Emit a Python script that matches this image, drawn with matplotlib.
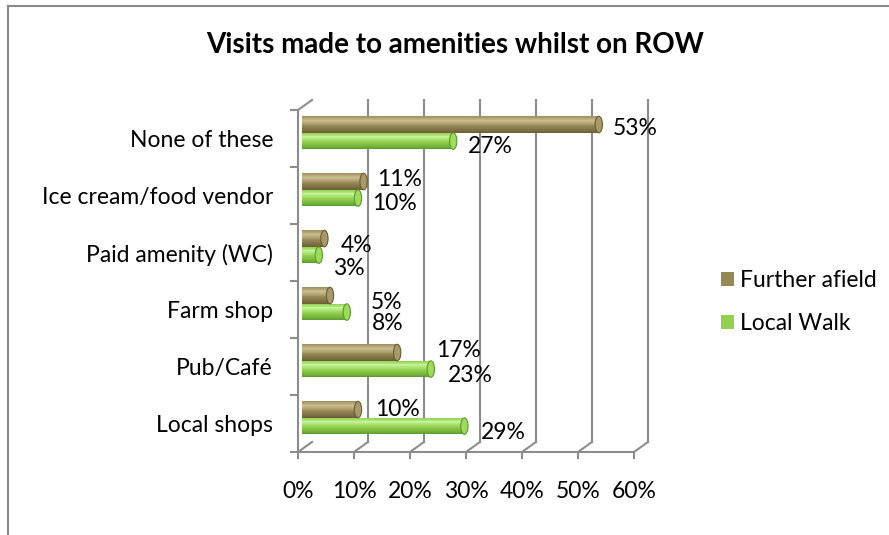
import numpy as np
import matplotlib
matplotlib.use("Agg")
import matplotlib.pyplot as plt
from matplotlib.transforms import ScaledTranslation
from matplotlib.patches import Ellipse, Patch
from matplotlib.lines import Line2D
from matplotlib.colors import LinearSegmentedColormap

# survey data, listed top to bottom as shown on the chart
categories = ["None of these", "Ice cream/food vendor", "Paid amenity (WC)",
              "Farm shop", "Pub/Café", "Local shops"]
further_afield = [53, 11, 4, 5, 17, 10]
local_walk = [27, 10, 3, 8, 23, 29]
series_names = ["Further afield", "Local Walk"]
x_ticks = [0, 10, 20, 30, 40, 50, 60]

# label nudges in pixels (right, down) from the end of each bar
fa_label_dx = [18, 18, 20, 45, 43, 21]
fa_label_dy = [4, -2, 7, 7, -2, 0]
lw_label_dx = [19, 18, 18, 29, 21, 20]
lw_label_dy = [5, 5, 13, 11, 6, 6]

plt.rcParams["font.family"] = ["Lato", "DejaVu Sans"]
FS = 16.5
GRID = "#8c8c8c"

W, H, DPI = 889, 535, 100
fig = plt.figure(figsize=(W / DPI, H / DPI), dpi=DPI)
fig.patch.set_facecolor("white")

# front plane of the 3-D box
ax = fig.add_axes([298 / W, (H - 452) / H, 336 / W, 342 / H])
ax.set_xlim(0, 60)
ax.set_ylim(-0.5, len(categories) - 0.5)
ax.patch.set_visible(False)

def px(dx, dy):
    return ScaledTranslation(dx / DPI, dy / DPI, fig.dpi_scale_trans)

back = ax.transData + px(14, 10)      # back wall
bar_tr = ax.transData + px(4, 0)      # bars sit a little inside the box

# back wall gridlines and floor diagonals
for v in x_ticks:
    if v > 0:
        ax.plot([v, v], [-0.5, len(categories) - 0.5],
                color=GRID, lw=1.5, transform=back, clip_on=False, zorder=1)
    fx, fy = ax.transData.transform((v, -0.5))
    ax.add_line(Line2D([fx, fx + 14], [fy, fy + 10], color=GRID, lw=1.5,
                       transform=None, clip_on=False, zorder=1))
# top-left diagonal
fx, fy = ax.transData.transform((0, len(categories) - 0.5))
ax.add_line(Line2D([fx, fx + 14], [fy, fy + 10], color=GRID, lw=1.5,
                   transform=None, clip_on=False, zorder=1))

for s in ["top", "right"]:
    ax.spines[s].set_visible(False)
for s in ["left", "bottom"]:
    ax.spines[s].set_color(GRID)
    ax.spines[s].set_linewidth(1.5)

ypos = np.arange(len(categories))[::-1]
ax.set_yticks(ypos)
ax.set_yticklabels(categories, fontsize=FS)
ax.set_yticks(np.arange(-0.5, len(categories)), minor=True)
ax.tick_params(axis="y", which="major", length=0, pad=18)
ax.tick_params(axis="y", which="minor", length=6, width=1.5, color=GRID)
ax.set_xticks(x_ticks)
ax.set_xticklabels([f"{v}%" for v in x_ticks], fontsize=FS)
ax.tick_params(axis="x", which="major", length=5, width=1.5, color=GRID, pad=16)

def shade(c_dark, c_mid, c_light):
    return LinearSegmentedColormap.from_list(
        "cyl", [(0, c_dark), (0.45, c_mid), (0.75, c_light), (1, c_mid)])

styles = [
    dict(cmap=shade("#6c5e35", "#9d8e5c", "#cbbd8e"), edge="#6a5c33",
         cap="#a89a68", off=0.245, dx=fa_label_dx, dy=fa_label_dy),
    dict(cmap=shade("#5c9a2c", "#92d050", "#c6f59a"), edge="#5a9a2a",
         cap="#9edb5c", off=-0.045, dx=lw_label_dx, dy=lw_label_dy),
]
bh = 0.29
nstrip = 18
for vals, st in zip([further_afield, local_walk], styles):
    for y, v, dx, dy in zip(ypos, vals, st["dx"], st["dy"]):
        yc = y + st["off"]
        for k in range(nstrip):
            t = (k + 0.5) / nstrip
            ax.barh(yc - bh / 2 + bh * t, v, height=bh / nstrip * 1.05,
                    color=st["cmap"](t), lw=0, transform=bar_tr, zorder=3)
        cap = Ellipse((v, yc), width=1.3, height=bh, facecolor=st["cap"],
                      edgecolor=st["edge"], lw=0.8, transform=bar_tr, zorder=4)
        ax.add_patch(cap)
        ax.text(v, yc, f"{v}%", fontsize=FS, ha="left", va="center",
                transform=ax.transData + px(dx, -dy), zorder=5)

# legend
handles = [Patch(facecolor="#948a54", edgecolor="none"),
           Patch(facecolor="#92d050", edgecolor="none")]
fig.legend(handles, series_names, loc="center left",
           bbox_to_anchor=(700 / W, 1 - 302 / H), frameon=False,
           fontsize=FS, handlelength=0.6, handleheight=0.6,
           handletextpad=0.25, labelspacing=0.95)

fig.text(455 / W, 1 - 45 / H, "Visits made to amenities whilst on ROW",
         fontsize=20, fontweight="bold", ha="center", va="center")

# chart area border (left and top edges)
fig.add_artist(Line2D([8 / W, 8 / W], [0, 1 - 6 / H], color="#898989", lw=1.5,
                      transform=fig.transFigure))
fig.add_artist(Line2D([8 / W, 1], [1 - 6 / H, 1 - 6 / H], color="#898989", lw=1.5,
                      transform=fig.transFigure))

fig.savefig("out.png", dpi=DPI)
